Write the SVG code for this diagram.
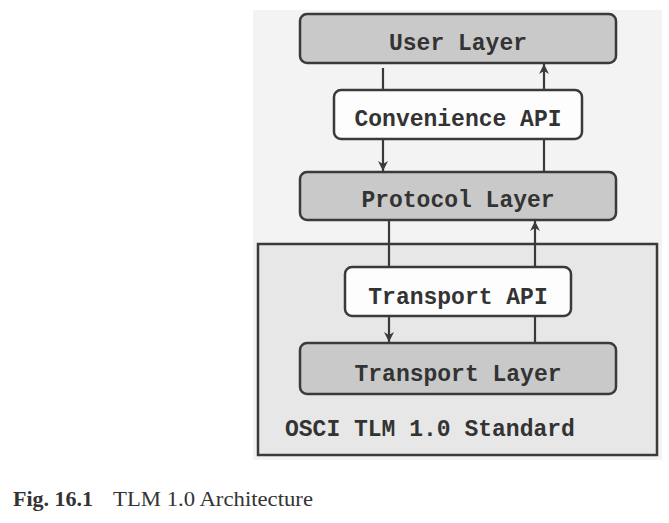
<svg xmlns="http://www.w3.org/2000/svg" width="669" height="523" viewBox="0 0 669 523">
<style>
.layer{fill:#c9c9c9;stroke:#3a3a3a;stroke-width:2.5}
.api{fill:#fdfdfd;stroke:#3a3a3a;stroke-width:2.5}
.lbl{font-family:"Liberation Mono","DejaVu Sans Mono",monospace;font-weight:bold;font-size:23px;fill:#333;text-anchor:middle}
.conn{stroke:#3a3a3a;stroke-width:2.2;fill:none}
.cap{font-family:"Liberation Serif","Times New Roman",serif;font-size:22px;fill:#333}
</style>
<defs>
<marker id="ah" viewBox="0 0 10 10" refX="10" refY="5" markerWidth="13" markerHeight="10" markerUnits="userSpaceOnUse" orient="auto">
<path d="M0,0 L10,5 L0,10 L3,5 Z" fill="#3a3a3a"/>
</marker>
</defs>
<rect x="0" y="0" width="669" height="523" fill="#ffffff"/>
<rect x="253" y="10" width="409" height="450" fill="#f3f3f3"/>
<g id="standard">
<rect x="258" y="244" width="399" height="211" fill="#e7e7e7" stroke="#3a3a3a" stroke-width="2.5"/>
<text x="285" y="436" style="font-family:'Liberation Mono','DejaVu Sans Mono',monospace;font-weight:bold;font-size:23px;fill:#333">OSCI TLM 1.0 Standard</text>
</g>
<g id="user-layer">
<rect class="layer" x="300" y="14" width="316" height="49" rx="7"/>
<text class="lbl" x="458" y="50">User Layer</text>
</g>
<g id="convenience-api">
<rect class="api" x="334" y="90" width="248" height="49" rx="7"/>
<text class="lbl" x="458" y="126">Convenience API</text>
</g>
<g id="protocol-layer">
<rect class="layer" x="300" y="172" width="316" height="48" rx="7"/>
<text class="lbl" x="458" y="207">Protocol Layer</text>
</g>
<g id="transport-api">
<rect class="api" x="345" y="267" width="226" height="49" rx="7"/>
<text class="lbl" x="458" y="304">Transport API</text>
</g>
<g id="transport-layer">
<rect class="layer" x="300" y="343" width="316" height="51" rx="7"/>
<text class="lbl" x="458" y="381">Transport Layer</text>
</g>
<g id="connectors">
<line class="conn" x1="383" y1="68" x2="383" y2="90"/>
<line class="conn" x1="544" y1="90" x2="544" y2="64" marker-end="url(#ah)"/>
<line class="conn" x1="383" y1="139" x2="383" y2="171" marker-end="url(#ah)"/>
<line class="conn" x1="544" y1="172" x2="544" y2="139"/>
<line class="conn" x1="389" y1="220" x2="389" y2="267"/>
<line class="conn" x1="535" y1="267" x2="535" y2="221" marker-end="url(#ah)"/>
<line class="conn" x1="389" y1="316" x2="389" y2="342" marker-end="url(#ah)"/>
<line class="conn" x1="535" y1="343" x2="535" y2="316"/>
</g>
<g id="caption">
<text class="cap" x="13" y="506" style="font-weight:bold">Fig. 16.1</text>
<text class="cap" x="113" y="506" textLength="200" lengthAdjust="spacingAndGlyphs">TLM 1.0 Architecture</text>
</g>
</svg>
